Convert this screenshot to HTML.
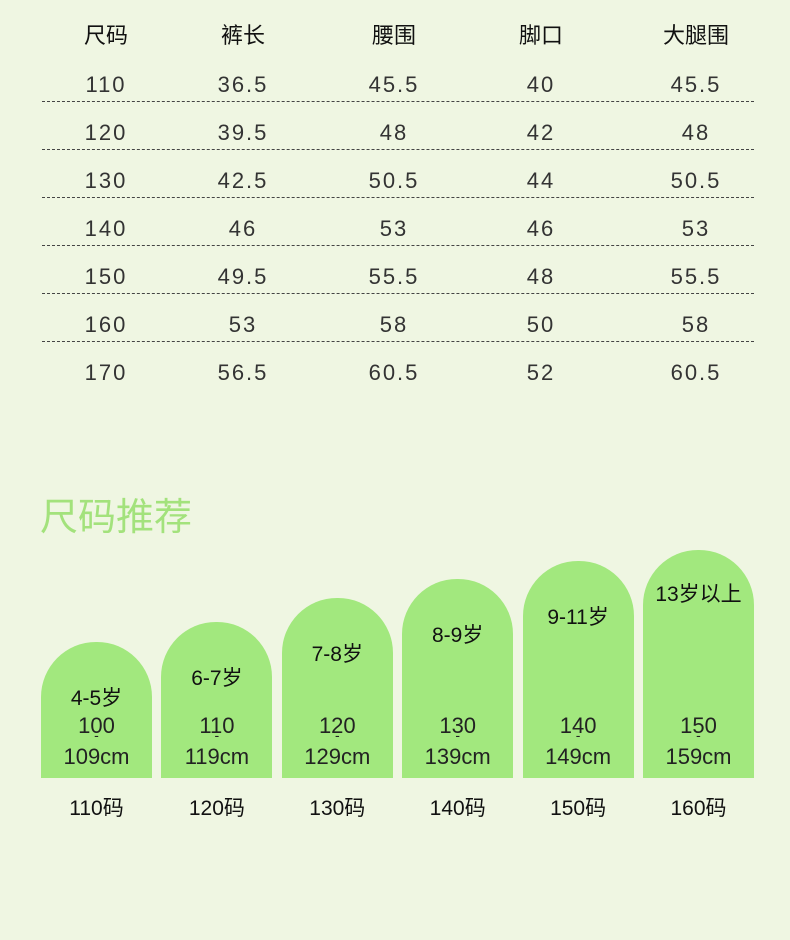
<!DOCTYPE html>
<html><head><meta charset="utf-8"><style>
body{margin:0;}
#page{position:relative;width:790px;height:940px;background:#eff6e2;overflow:hidden;font-family:"Liberation Sans","Noto Sans CJK SC",sans-serif;}
.t{position:absolute;transform:translateX(-50%);white-space:nowrap;}
.h{font-size:22px;color:#111;top:18px;}
.c{font-size:22px;color:#333;letter-spacing:2px;}
.dl{position:absolute;left:42px;width:712px;height:0;border-top:1.5px dashed #444;}
.bar{position:absolute;background:#a2e87e;border-radius:55px 55px 0 0;}
</style></head><body>
<div id="page">
<div style="position:absolute;left:40px;top:486px;font-size:38px;color:#a3e27c;">尺码推荐</div>
</div>
<script>
const page=document.getElementById('page');
const headers=['尺码','裤长','腰围','脚口','大腿围'];
const colX=[106,243,394,541,696];
const rows=[['110','36.5','45.5','40','45.5'],['120','39.5','48','42','48'],['130','42.5','50.5','44','50.5'],['140','46','53','46','53'],['150','49.5','55.5','48','55.5'],['160','53','58','50','58'],['170','56.5','60.5','52','60.5']];
headers.forEach((h,i)=>{const d=document.createElement('div');d.className='t h';d.style.left=colX[i]+'px';d.textContent=h;


page.appendChild(d);});
rows.forEach((r,ri)=>{const y=72+ri*48;
r.forEach((v,ci)=>{const d=document.createElement('div');d.className='t c';d.style.left=colX[ci]+'px';d.style.top=y+'px';d.textContent=v;


page.appendChild(d);});
if(ri<rows.length-1){const l=document.createElement('div');l.className='dl';l.style.top=(y+29)+'px';


page.appendChild(l);}});
// recommendation bars
const ages=['4-5岁','6-7岁','7-8岁','8-9岁','9-11岁','13岁以上'];
const heightsLow=['100','110','120','130','140','150'];
const heightsHigh=['109cm','119cm','129cm','139cm','149cm','159cm'];
const sizes=['110码','120码','130码','140码','150码','160码'];
const barHeights=[136,156,180,199,217,228];
const base=778,x0=41,step=120.4,bw=111;
ages.forEach((a,i)=>{const x=x0+i*step;const b=document.createElement('div');b.className='bar';
b.style.left=x+'px';b.style.width=bw+'px';b.style.top=(base-barHeights[i])+'px';b.style.height=barHeights[i]+'px';


page.appendChild(b);
const cx=x+bw/2;
const mk=(txt,top,fs,col,name)=>{const d=document.createElement('div');d.className='t';d.style.left=cx+'px';d.style.top=top+'px';d.style.fontSize=fs+'px';d.style.color=col;d.textContent=txt;


page.appendChild(d);};
mk(a,base-barHeights[i]+40-(i==5?12:0),21,'#111','age-label-'+i);
mk(heightsLow[i],713,22,'#222','height-low-'+i);
mk('-',727,14,'#222','height-dash-'+i);
mk(heightsHigh[i],744,22,'#222','height-high-'+i);
mk(sizes[i],792,21,'#111','size-label-'+i);
});
</script>
</body></html>
